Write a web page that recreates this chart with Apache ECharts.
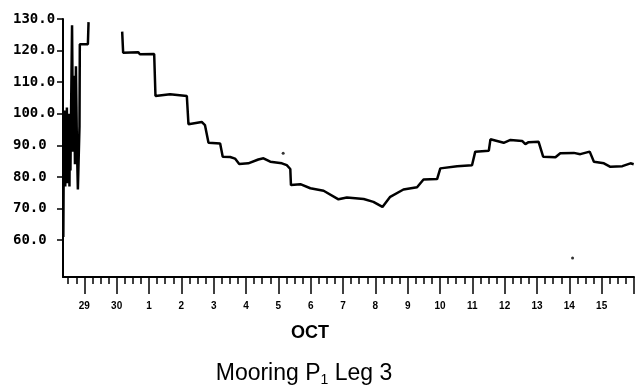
<!DOCTYPE html>
<html>
<head>
<meta charset="utf-8">
<script src="https://cdn.jsdelivr.net/npm/echarts@6/dist/echarts.min.js"></script>
<style>
  html, body { margin: 0; padding: 0; background: #fff; }
  #main { width: 643px; height: 388px; }
</style>
</head>
<body>
<div id="main"></div>
<script>
// time is in days, Oct 1 = 1 (Sep 30 = 0, Sep 29 = -1)
var burstDays = [-1.65, -1.63, -1.62, -1.60, -1.59, -1.57, -1.55, -1.54, -1.52, -1.51,
                 -1.49, -1.48, -1.46, -1.45, -1.43, -1.42, -1.38, -1.35, -1.32, -1.29,
                 -1.26, -1.23, -1.20, -1.15, -1.14, -0.89, -0.87];
var burstValues = [61, 98, 78, 101, 77, 100, 79, 102, 78, 97,
                   80, 100, 77, 95, 82, 92, 128, 88, 112, 84,
                   115, 90, 76, 96, 122, 122, 129];

var mainDays = [0.17, 0.20, 0.67, 0.72, 1.16, 1.20, 1.65, 1.71, 2.17, 2.22,
                2.63, 2.73, 2.84, 3.20, 3.28, 3.51, 3.66, 3.79, 4.07, 4.38,
                4.54, 4.75, 5.11, 5.26, 5.37, 5.39, 5.68, 5.99, 6.40, 6.86,
                7.12, 7.64, 7.94, 8.22, 8.46, 8.87, 9.29, 9.49, 9.91, 10.01,
                10.53, 10.99, 11.09, 11.51, 11.56, 11.97, 12.18, 12.54, 12.64, 12.74,
                13.05, 13.19, 13.57, 13.72, 14.14, 14.34, 14.63, 14.76, 15.07, 15.27,
                15.64, 15.89, 15.99];
var mainValues = [126.0, 119.3, 119.5, 118.8, 118.9, 105.6, 106.2, 105.6, 105.6, 96.7,
                  97.4, 96.4, 90.8, 90.6, 86.4, 86.3, 85.8, 84.1, 84.3, 85.5,
                  85.9, 84.8, 84.3, 83.7, 82.5, 77.4, 77.7, 76.4, 75.6, 72.9,
                  73.5, 73.0, 72.1, 70.5, 73.7, 76.0, 76.7, 79.2, 79.3, 82.7,
                  83.4, 83.7, 88.0, 88.3, 91.9, 90.8, 91.7, 91.4, 90.4, 91.0,
                  91.1, 86.4, 86.2, 87.5, 87.6, 87.2, 88.0, 84.8, 84.3, 83.2,
                  83.4, 84.3, 84.0];

var strayDays = [5.15, 14.10];
var strayValues = [87.5, 54.3];

var dayTicks = [-1, 0, 1, 2, 3, 4, 5, 6, 7, 8, 9, 10, 11, 12, 13, 14, 15, 16];
var dayLabels = ['29', '30', '1', '2', '3', '4', '5', '6', '7', '8', '9', '10', '11', '12', '13', '14', '15'];
var yTicks = [60, 70, 80, 90, 100, 110, 120, 130];

var quarterTicks = [];
for (var q = -1.5; q < 16; q += 0.25) {
    if (q % 1 !== 0) quarterTicks.push(q);
}

function pairs(xs, ys) {
    var out = [];
    for (var i = 0; i < xs.length; i++) out.push([xs[i], ys[i]]);
    return out;
}

var myChart = echarts.init(document.getElementById('main'), null, { renderer: 'canvas' });

var option = {
    animation: false,
    backgroundColor: '#fff',
    grid: { left: 63, right: 9, top: 19, bottom: 111, outerBoundsMode: 'none' },
    xAxis: [
        {
            type: 'value',
            position: 'bottom',
            min: -1.66,
            max: 16,
            axisLine: { onZero: false, lineStyle: { color: '#000', width: 2 } },
            axisTick: { customValues: dayTicks, length: 17, lineStyle: { color: '#000', width: 1.5 } },
            axisLabel: {
                customValues: dayTicks.slice(0, dayLabels.length),
                formatter: function (v) { return dayLabels[Math.round(v) + 1]; },
                color: '#000',
                fontFamily: 'Liberation Sans',
                fontWeight: 'bold',
                fontSize: 10,
                margin: 24
            },
            splitLine: { show: false }
        },
        {
            type: 'value',
            position: 'bottom',
            min: -1.66,
            max: 16,
            axisLine: { show: false, onZero: false },
            axisTick: { customValues: quarterTicks, length: 7, lineStyle: { color: '#000', width: 1.5 } },
            axisLabel: { show: false },
            splitLine: { show: false }
        }
    ],
    yAxis: {
        type: 'value',
        min: 48.3,
        max: 130,
        axisLine: { show: true, onZero: false, lineStyle: { color: '#000', width: 2 } },
        axisTick: { show: true, customValues: yTicks, length: 6, lineStyle: { color: '#000', width: 1.5 } },
        axisLabel: {
            customValues: yTicks,
            formatter: function (v) { return v.toFixed(1); },
            align: 'left',
            margin: 50,
            color: '#000',
            fontFamily: 'DejaVu Sans Mono',
            fontWeight: 'bold',
            fontSize: 14
        },
        splitLine: { show: false }
    },
    graphic: [
        {
            type: 'text',
            x: 310,
            y: 333,
            style: {
                text: 'OCT',
                fill: '#000',
                font: 'bold 18px "Liberation Sans"',
                align: 'center',
                verticalAlign: 'middle'
            }
        },
        {
            type: 'text',
            x: 304,
            y: 374,
            style: {
                text: '{a|Mooring P}{s|1}{a| Leg 3}',
                fill: '#000',
                align: 'center',
                verticalAlign: 'middle',
                rich: {
                    a: { fontFamily: 'Liberation Sans', fontSize: 23, lineHeight: 26, fill: '#000' },
                    s: { fontFamily: 'Liberation Sans', fontSize: 14, lineHeight: 14, verticalAlign: 'bottom', fill: '#000' }
                }
            }
        }
    ],
    series: [
        {
            name: 'burst',
            type: 'line',
            data: pairs(burstDays, burstValues),
            showSymbol: false,
            lineStyle: { color: '#000', width: 2.5 }
        },
        {
            name: 'speed',
            type: 'line',
            data: pairs(mainDays, mainValues),
            showSymbol: false,
            lineStyle: { color: '#000', width: 2.5 }
        },
        {
            name: 'dots',
            type: 'scatter',
            data: pairs(strayDays, strayValues),
            symbolSize: 3,
            itemStyle: { color: '#000' }
        }
    ]
};

myChart.setOption(option);
</script>
</body>
</html>
